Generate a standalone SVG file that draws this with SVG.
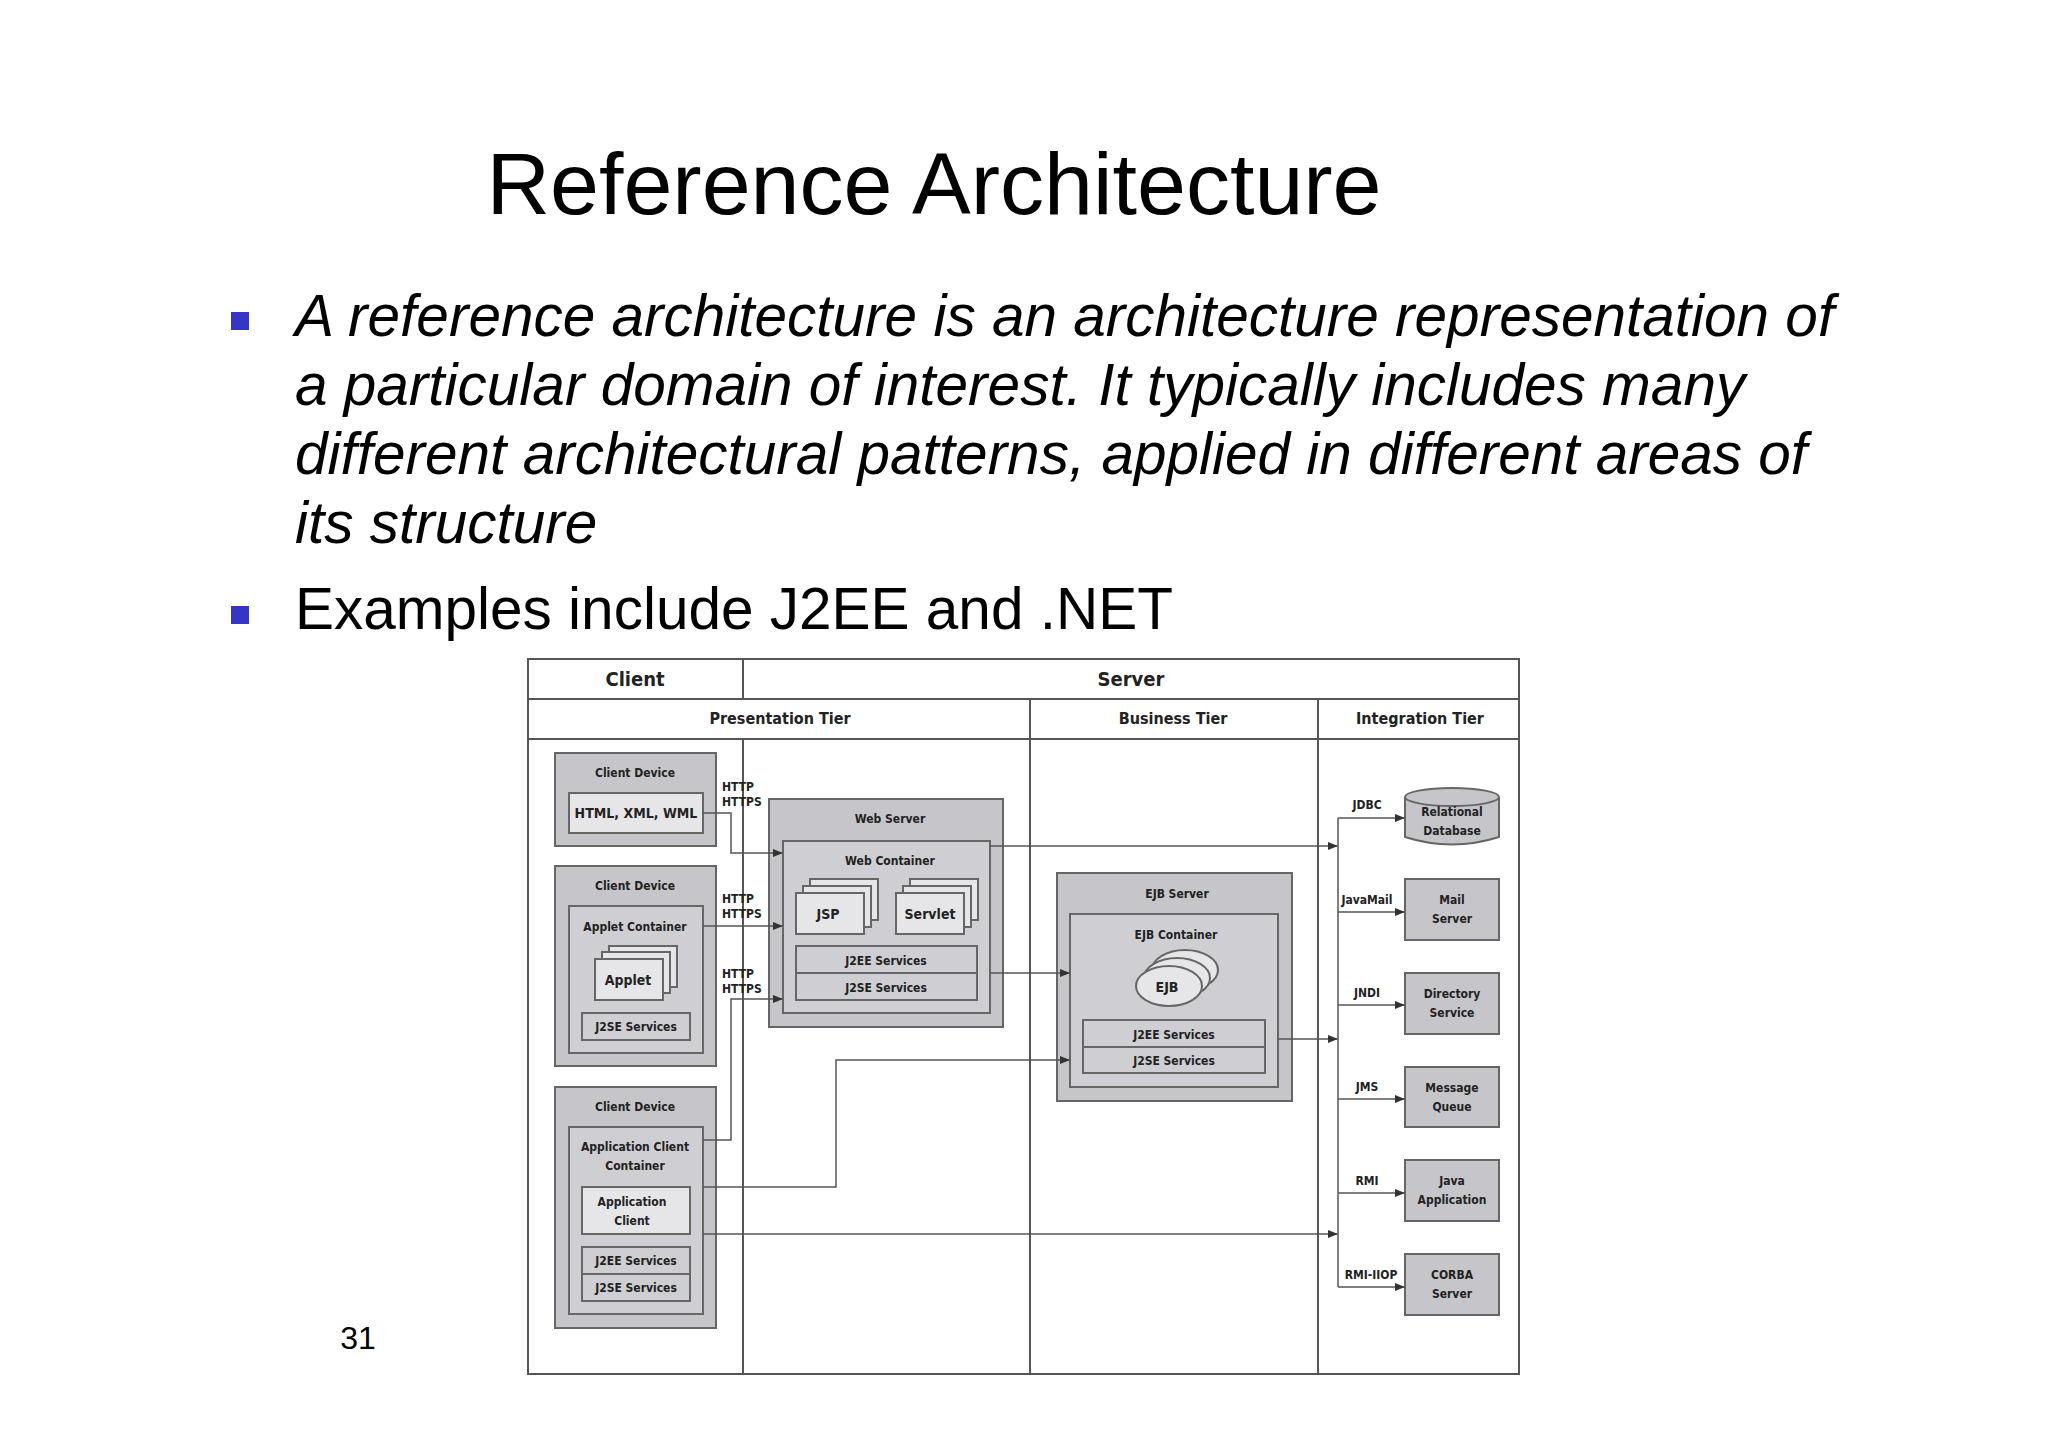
<svg xmlns="http://www.w3.org/2000/svg" width="2048" height="1447" viewBox="0 0 2048 1447">
<defs>
<marker id="ah" markerWidth="10" markerHeight="8" refX="9" refY="4" orient="auto" markerUnits="userSpaceOnUse"><path d="M0,0 L10,4 L0,8 Z" fill="#333"/></marker>
<style>
.t{font-family:"DejaVu Sans Condensed","DejaVu Sans",sans-serif;font-weight:bold;fill:#222;text-anchor:middle}
.h1{font-size:20px}.h2{font-size:16px}.b{font-size:14px}.s{font-size:12px}
.g1{fill:#c6c6ca;stroke:#666;stroke-width:2}
.g2{fill:#cfcfd3;stroke:#666;stroke-width:2}
.w{fill:#e6e6e8;stroke:#666;stroke-width:2}
.ln{fill:none;stroke:#555;stroke-width:1.5}
.ar{fill:none;stroke:#555;stroke-width:1.5;marker-end:url(#ah)}
.grid{fill:none;stroke:#555;stroke-width:2}
.body{font-family:"Liberation Sans",Arial,sans-serif;fill:#000}
</style>
</defs>
<rect width="2048" height="1447" fill="#fff"/>
<text class="body" x="934" y="214" font-size="88" text-anchor="middle">Reference Architecture</text>
<rect x="231" y="312" width="18" height="18" fill="#3535c8"/>
<g class="body" font-size="58.5" font-style="italic">
<text x="295" y="336">A reference architecture is an architecture representation of</text>
<text x="295" y="405">a particular domain of interest. It typically includes many</text>
<text x="295" y="474">different architectural patterns, applied in different areas of</text>
<text x="295" y="543">its structure</text>
</g>
<rect x="231" y="606" width="18" height="18" fill="#3535c8"/>
<text class="body" x="295" y="629" font-size="58.5">Examples include J2EE and .NET</text>
<text class="body" x="358" y="1349" font-size="32" text-anchor="middle">31</text>

<g id="frame">
<rect x="528" y="659" width="991" height="715" fill="#fdfdfd" class="grid"/>
<line x1="528" y1="699" x2="1519" y2="699" class="grid"/>
<line x1="528" y1="739" x2="1519" y2="739" class="grid"/>
<line x1="743" y1="659" x2="743" y2="699" class="grid"/>
<line x1="743" y1="739" x2="743" y2="1374" class="grid"/>
<line x1="1030" y1="699" x2="1030" y2="1374" class="grid"/>
<line x1="1318" y1="699" x2="1318" y2="1374" class="grid"/>
<text class="t h1" x="635" y="686">Client</text>
<text class="t h1" x="1131" y="686">Server</text>
<text class="t h2" x="780" y="724">Presentation Tier</text>
<text class="t h2" x="1173" y="724">Business Tier</text>
<text class="t h2" x="1420" y="724">Integration Tier</text>
</g>

<g id="client1">
<rect x="555" y="753" width="161" height="93" class="g1"/>
<text class="t s" x="635" y="777">Client Device</text>
<rect x="569" y="793" width="134" height="40" class="w"/>
<text class="t b" x="636" y="818">HTML, XML, WML</text>
</g>
<g id="client2">
<rect x="555" y="866" width="161" height="200" class="g1"/>
<text class="t s" x="635" y="890">Client Device</text>
<rect x="569" y="906" width="134" height="147" class="g2"/>
<text class="t s" x="635" y="931">Applet Container</text>
<rect x="609" y="946" width="68" height="41" class="w"/>
<rect x="602" y="952" width="68" height="41" class="w"/>
<rect x="595" y="959" width="68" height="41" class="w"/>
<text class="t b" x="628" y="985">Applet</text>
<rect x="582" y="1013" width="108" height="27" class="g2"/>
<text class="t s" x="636" y="1031">J2SE Services</text>
</g>
<g id="client3">
<rect x="555" y="1087" width="161" height="241" class="g1"/>
<text class="t s" x="635" y="1111">Client Device</text>
<rect x="569" y="1127" width="134" height="187" class="g2"/>
<text class="t s" x="635" y="1151">Application Client</text>
<text class="t s" x="635" y="1170">Container</text>
<rect x="582" y="1187" width="108" height="47" class="w"/>
<text class="t s" x="632" y="1206">Application</text>
<text class="t s" x="632" y="1225">Client</text>
<rect x="582" y="1247" width="108" height="27" class="g2"/>
<text class="t s" x="636" y="1265">J2EE Services</text>
<rect x="582" y="1274" width="108" height="27" class="g2"/>
<text class="t s" x="636" y="1292">J2SE Services</text>
</g>

<g id="webserver">
<rect x="769" y="799" width="234" height="228" class="g1"/>
<text class="t s" x="890" y="823">Web Server</text>
<rect x="783" y="841" width="207" height="172" class="g2"/>
<text class="t s" x="890" y="865">Web Container</text>
<rect x="810" y="879" width="68" height="41" class="w"/>
<rect x="803" y="886" width="68" height="41" class="w"/>
<rect x="796" y="893" width="68" height="41" class="w"/>
<text class="t b" x="828" y="919">JSP</text>
<rect x="910" y="879" width="68" height="41" class="w"/>
<rect x="903" y="886" width="68" height="41" class="w"/>
<rect x="896" y="893" width="68" height="41" class="w"/>
<text class="t b" x="930" y="919">Servlet</text>
<rect x="796" y="946" width="181" height="27" class="g2"/>
<text class="t s" x="886" y="965">J2EE Services</text>
<rect x="796" y="973" width="181" height="27" class="g2"/>
<text class="t s" x="886" y="992">J2SE Services</text>
</g>

<g id="ejbserver">
<rect x="1057" y="873" width="235" height="228" class="g1"/>
<text class="t s" x="1177" y="898">EJB Server</text>
<rect x="1070" y="914" width="208" height="173" class="g2"/>
<text class="t s" x="1176" y="939">EJB Container</text>
<ellipse cx="1185" cy="970" rx="33" ry="20" class="w"/>
<ellipse cx="1177" cy="978" rx="33" ry="20" class="w"/>
<ellipse cx="1169" cy="986" rx="33" ry="20" class="w"/>
<text class="t b" x="1167" y="992">EJB</text>
<rect x="1083" y="1020" width="182" height="27" class="g2"/>
<text class="t s" x="1174" y="1039">J2EE Services</text>
<rect x="1083" y="1047" width="182" height="26" class="g2"/>
<text class="t s" x="1174" y="1065">J2SE Services</text>
</g>

<g id="db">
<path d="M1405,797 L1405,837 Q1452,852 1499,837 L1499,797" class="g1"/>
<ellipse cx="1452" cy="797" rx="47" ry="9" class="g1"/>
<text class="t s" x="1452" y="816">Relational</text>
<text class="t s" x="1452" y="835">Database</text>
</g>
<g id="mail"><rect x="1405" y="879" width="94" height="61" class="g1"/><text class="t s" x="1452" y="904">Mail</text><text class="t s" x="1452" y="923">Server</text></g>
<g id="dir"><rect x="1405" y="973" width="94" height="61" class="g1"/><text class="t s" x="1452" y="998">Directory</text><text class="t s" x="1452" y="1017">Service</text></g>
<g id="mq"><rect x="1405" y="1067" width="94" height="60" class="g1"/><text class="t s" x="1452" y="1092">Message</text><text class="t s" x="1452" y="1111">Queue</text></g>
<g id="javaapp"><rect x="1405" y="1160" width="94" height="61" class="g1"/><text class="t s" x="1452" y="1185">Java</text><text class="t s" x="1452" y="1204">Application</text></g>
<g id="corba"><rect x="1405" y="1254" width="94" height="61" class="g1"/><text class="t s" x="1452" y="1279">CORBA</text><text class="t s" x="1452" y="1298">Server</text></g>

<g id="connectors">
<polyline points="703,813 731,813 731,853 782,853" class="ar"/>
<line x1="703" y1="926" x2="782" y2="926" class="ar"/>
<polyline points="703,1140 731,1140 731,999 782,999" class="ar"/>
<polyline points="703,1187 836,1187 836,1060 1069,1060" class="ar"/>
<line x1="990" y1="973" x2="1069" y2="973" class="ar"/>
<line x1="990" y1="846" x2="1337" y2="846" class="ar"/>
<line x1="1278" y1="1039" x2="1337" y2="1039" class="ar"/>
<line x1="703" y1="1234" x2="1337" y2="1234" class="ar"/>
<line x1="1338" y1="818" x2="1338" y2="1287" class="ln"/>
<line x1="1338" y1="818" x2="1404" y2="818" class="ar"/>
<line x1="1338" y1="912" x2="1404" y2="912" class="ar"/>
<line x1="1338" y1="1005" x2="1404" y2="1005" class="ar"/>
<line x1="1338" y1="1099" x2="1404" y2="1099" class="ar"/>
<line x1="1338" y1="1193" x2="1404" y2="1193" class="ar"/>
<line x1="1338" y1="1287" x2="1404" y2="1287" class="ar"/>
<g class="t s">
<text x="722" y="791" text-anchor="start">HTTP</text><text x="722" y="806" text-anchor="start">HTTPS</text>
<text x="722" y="903" text-anchor="start">HTTP</text><text x="722" y="918" text-anchor="start">HTTPS</text>
<text x="722" y="978" text-anchor="start">HTTP</text><text x="722" y="993" text-anchor="start">HTTPS</text>
</g>
<text class="t s" x="1367" y="809">JDBC</text>
<text class="t s" x="1367" y="904">JavaMail</text>
<text class="t s" x="1367" y="997">JNDI</text>
<text class="t s" x="1367" y="1091">JMS</text>
<text class="t s" x="1367" y="1185">RMI</text>
<text class="t s" x="1371" y="1279">RMI-IIOP</text>
</g>
</svg>
